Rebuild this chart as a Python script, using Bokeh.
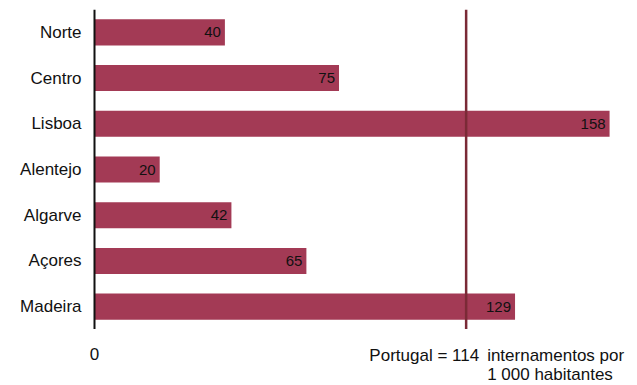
from bokeh.plotting import figure
from bokeh.layouts import column
from bokeh.models import Range1d, FactorRange, ColumnDataSource, Span
from bokeh.core.properties import value
from bokeh.embed import file_html
from bokeh.resources import INLINE

regions = ["Norte", "Centro", "Lisboa", "Alentejo", "Algarve", "Açores", "Madeira"]
values = [40, 75, 158, 20, 42, 65, 129]
portugal = 114
ref_left = "Portugal = 114"
ref_line1 = "internamentos por"
ref_line2 = "1 000 habitantes"
zero_label = "0"

FONT = "Liberation Sans"
BAR = "#a33a55"
LINE = "#7a2a36"
INK = "#111111"
W = 630
TOP, FRAME_H, FOOT_H = 9, 320, 54
LEFT = 94          # pixels left of the zero line
SCALE = 3.26       # px per unit
x_rng = (-LEFT / SCALE, (W - LEFT) / SCALE)

src = ColumnDataSource(dict(region=regions, value=values, label=[str(v) for v in values],
                            zero=[0] * len(regions)))

p = figure(width=W, height=TOP + FRAME_H, output_backend="svg", toolbar_location=None,
           y_range=FactorRange(factors=list(reversed(regions))),
           x_range=Range1d(*x_rng), x_axis_location=None, y_axis_location=None,
           min_border_left=0, min_border_right=0, min_border_top=TOP, min_border_bottom=0)
p.outline_line_color = None
p.xgrid.grid_line_color = None
p.ygrid.grid_line_color = None

p.hbar(y="region", right="value", left=0, height=0.57, source=src, fill_color=BAR, line_color=None)
p.text(x="value", y="region", text="label", source=src, x_offset=-4, text_align="right",
       text_baseline="middle", text_font=value(FONT), text_font_size="15px", text_color=INK)
# category labels
p.text(x="zero", y="region", text="region", source=src, x_offset=-13, text_align="right",
       text_baseline="middle", text_font=value(FONT), text_font_size="17px", text_color=INK)

# axis line at zero and Portugal reference line
p.add_layout(Span(location=0, dimension="height", line_color=INK, line_width=2))
p.add_layout(Span(location=portugal, dimension="height", line_color=LINE, line_width=2.5))

# footer with the zero label and the reference note (same horizontal scale)
f = figure(width=W, height=FOOT_H, output_backend="svg", toolbar_location=None,
           x_range=Range1d(*x_rng), y_range=Range1d(-FOOT_H, 0),
           x_axis_location=None, y_axis_location=None,
           min_border_left=0, min_border_right=0, min_border_top=0, min_border_bottom=0)
f.outline_line_color = None
f.xgrid.grid_line_color = None
f.ygrid.grid_line_color = None

txt = dict(text_baseline="middle", text_font=value(FONT), text_font_size="17px", text_color=INK)
f.text(x=[0], y=[-24], text=[zero_label], text_align="center", **txt)
f.text(x=[portugal], y=[-26], text=[ref_left], x_offset=13, text_align="right", **txt)
f.text(x=[portugal], y=[-26], text=[ref_line1], x_offset=21, text_align="left", **txt)
f.text(x=[portugal], y=[-45], text=[ref_line2], x_offset=21, text_align="left", **txt)

layout = column(p, f, spacing=0)
open("out.html", "w").write(file_html(layout, INLINE))
